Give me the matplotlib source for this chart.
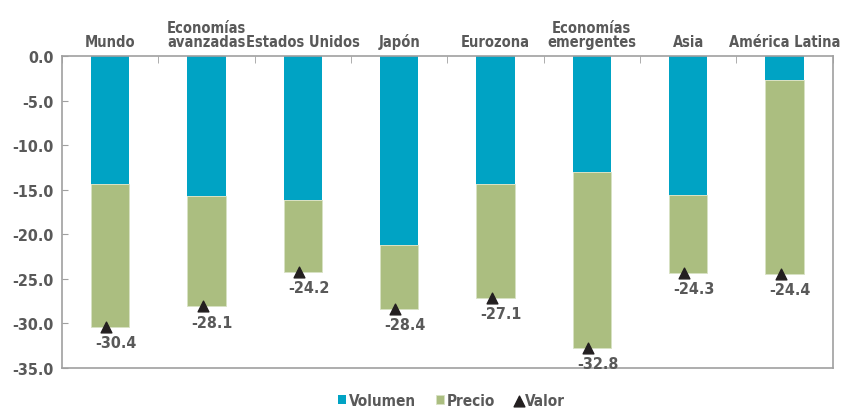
import matplotlib
matplotlib.use("Agg")
import matplotlib.pyplot as plt
import numpy as np

categories = ["Mundo", "Economías\navanzadas", "Estados Unidos", "Japón", "Eurozona",
              "Economías\nemergentes", "Asia", "América Latina"]
volumen = [-14.4, -15.7, -16.2, -21.2, -14.4, -13.0, -15.6, -2.7]
valor = [-30.4, -28.1, -24.2, -28.4, -27.1, -32.8, -24.3, -24.4]
precio = [v - q for v, q in zip(valor, volumen)]
yticks = [0, -5, -10, -15, -20, -25, -30, -35]

plt.rcParams['font.family'] = ['DejaVu Sans']
plt.rcParams['font.stretch'] = 'condensed'

c_vol = "#00A3C4"
c_pre = "#ABBE80"
c_txt = "#595959"
c_ax = "#A0A0A0"

fig = plt.figure(figsize=(8.44, 4.10), dpi=100)
ax = fig.add_axes([0.0735, 0.10, 0.913, 0.761])
x = np.arange(len(categories))
w = 0.4
hv = ax.bar(x, volumen, w, color=c_vol, label="Volumen", zorder=2)
hp = ax.bar(x, precio, w, bottom=volumen, color=c_pre, edgecolor="#d8e2c4", linewidth=0.6,
            label="Precio", zorder=2)
hm = ax.scatter(x - 0.04, valor, marker="^", s=60, color="#231F20", zorder=3, label="Valor")
for xi, v in zip(x, valor):
    ax.text(xi + 0.06, v - 0.9, f"{v:.1f}", ha="center", va="top", fontsize=11.5,
            fontweight="bold", color=c_txt)

ax.set_xlim(-0.5, len(categories) - 0.5)
ax.set_ylim(-35, 0)
ax.set_yticks(yticks)
ax.set_yticklabels([f"{t:.1f}" for t in yticks], fontsize=11.5, fontweight="bold", color=c_txt)
ax.xaxis.tick_top()
ax.set_xticks(x)
ax.set_xticklabels(categories, fontsize=10.5, fontweight="bold", color=c_txt, linespacing=0.95)
ax.set_xticks(np.arange(len(categories) + 1) - 0.5, minor=True)
ax.tick_params(axis="x", which="major", length=0, pad=5)
ax.tick_params(axis="x", which="minor", length=5, color=c_ax, direction="in")
ax.tick_params(axis="y", length=4, color=c_ax, direction="in", pad=6)
for s in ax.spines.values():
    s.set_color(c_ax)
    s.set_linewidth(1.2)

leg = fig.legend([hv, hp, hm], ["Volumen", "Precio", "Valor"], loc="lower center",
                 bbox_to_anchor=(0.535, -0.03), ncol=3, frameon=False,
                 handlelength=0.55, handleheight=0.55, handletextpad=0.15, columnspacing=1.3,
                 prop={"size": 11, "weight": "bold", "stretch": "condensed"})
for t in leg.get_texts():
    t.set_color(c_txt)
fig.savefig("out.png", dpi=100)
